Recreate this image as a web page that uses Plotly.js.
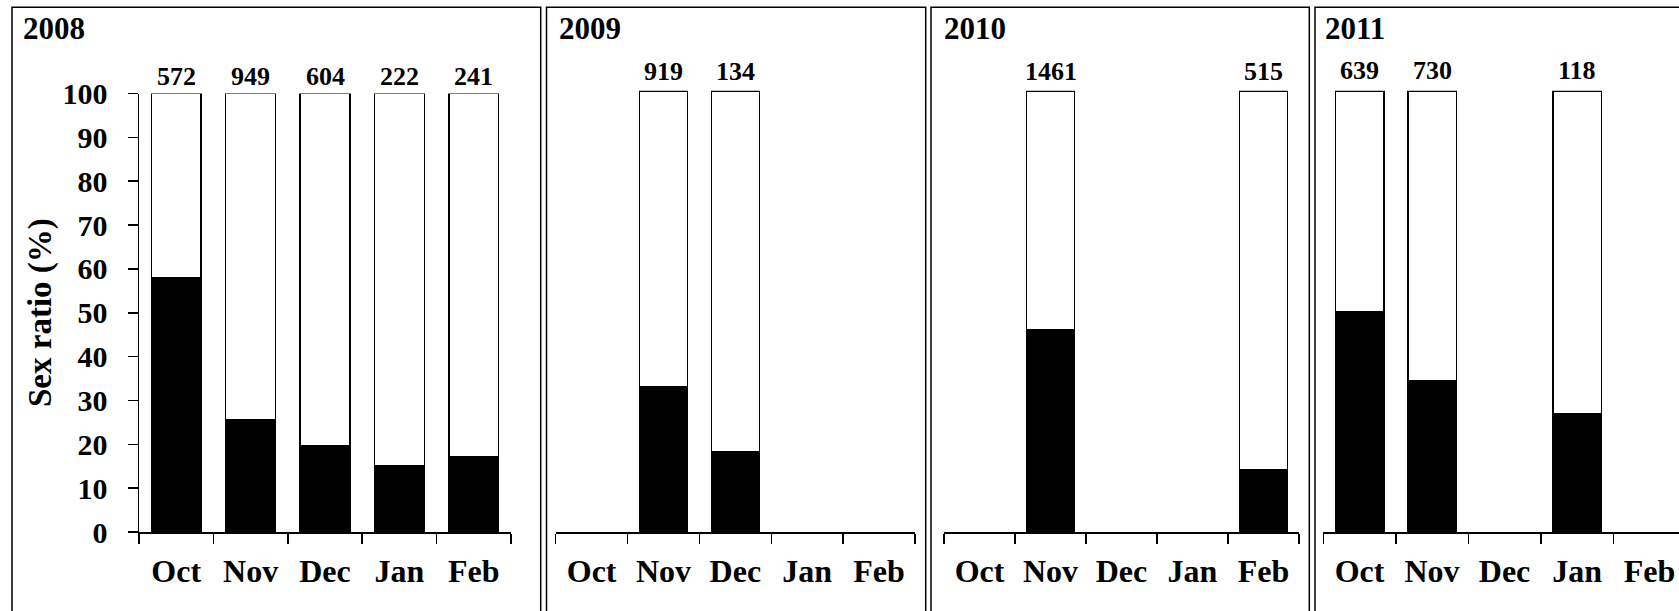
<!DOCTYPE html>
<html>
<head>
<meta charset="utf-8">
<script src="https://cdn.plot.ly/plotly-3.0.1.min.js"></script>
<style>
html,body{margin:0;padding:0;background:#fff;overflow:hidden;}
#chart{width:1679px;height:611px;}
</style>
</head>
<body>
<div id="chart"></div>
<script>
// ---- data ----
const months = ["Oct", "Nov", "Dec", "Jan", "Feb"];
const years = ["2008", "2009", "2010", "2011"];

// female share (%) – black segment
const female2008 = [57.9, 25.7, 19.7, 15.1, 17.2];
const female2009 = [null, 32.9, 18.1, null, null];
const female2010 = [null, 45.9, null, null, 14.1];
const female2011 = [49.9, 34.2, null, 26.8, null];

// male share (%) – white segment
const male2008 = [42.1, 74.3, 80.3, 84.9, 82.8];
const male2009 = [null, 67.1, 81.9, null, null];
const male2010 = [null, 54.1, null, null, 85.9];
const male2011 = [50.1, 65.8, null, 73.2, null];

// sample sizes shown above bars
const n2008 = [572, 949, 604, 222, 241];
const n2009 = [null, 919, 134, null, null];
const n2010 = [null, 1461, null, null, 515];
const n2011 = [639, 730, null, 118, null];

const yTicks = [0, 10, 20, 30, 40, 50, 60, 70, 80, 90, 100];

// ---- layout helpers ----
const W = 1679, H = 611;
const px = x => x / W;
const py = y => 1 - y / H;
const FONT = "Liberation Serif, Times New Roman, serif";

const femaleSets = [female2008, female2009, female2010, female2011];
const maleSets = [male2008, male2009, male2010, male2011];
const nSets = [n2008, n2009, n2010, n2011];

// pixel geometry of the four panels
const panels = [
  {ax0: 139, ax1: 511, top: 93.5, frame0: 12, frame1: 540.7, title: 20.7, lab: 17},
  {ax0: 555.7, ax1: 915, top: 90.8, frame0: 546.5, frame1: 925.7, title: 556.7, lab: 19.5},
  {ax0: 944, ax1: 1299, top: 90.8, frame0: 931, frame1: 1309.3, title: 941.7, lab: 19},
  {ax0: 1323.3, ax1: 1685.8, top: 90.8, frame0: 1315, frame1: 1700, title: 1323.3, lab: 20}
];
const bottomY = 532;

const traces = [];
const annotations = [];
const shapes = [];
const layout = {
  width: W, height: H,
  margin: {l: 0, r: 0, t: 0, b: 0},
  paper_bgcolor: "#fff", plot_bgcolor: "rgba(0,0,0,0)",
  barmode: "stack",
  showlegend: false,
  hovermode: false,
  font: {family: FONT, color: "#000"}
};

panels.forEach((p, i) => {
  const k = i === 0 ? "" : String(i + 1);
  const xa = "x" + k, ya = "y" + k;
  traces.push({
    type: "bar", x: months, y: femaleSets[i], xaxis: xa, yaxis: ya,
    width: 0.67, marker: {color: "#000", line: {color: "#000", width: 1.5}}
  });
  traces.push({
    type: "bar", x: months, y: maleSets[i], xaxis: xa, yaxis: ya,
    width: 0.67, marker: {color: "#fff", line: {color: "#000", width: 1.5}}
  });
  const visibleEnd = Math.min(p.ax1, W);
  const span = (p.ax1 - p.ax0) / months.length;
  layout["xaxis" + k] = {
    domain: [px(p.ax0), px(visibleEnd)],
    anchor: ya,
    type: "category",
    categoryorder: "array", categoryarray: months,
    range: [-0.5, -0.5 + (visibleEnd - p.ax0) / span],
    showline: true, linecolor: "#000", linewidth: 1.5,
    ticks: "outside", tickson: "boundaries", ticklen: 10, tickwidth: 1.5, tickcolor: "#000",
    ticklabelstandoff: 10,
    tickfont: {family: FONT, size: 32, color: "#000", weight: "bold"},
    showgrid: false, zeroline: false, fixedrange: true
  };
  layout["yaxis" + k] = {
    domain: [py(bottomY), py(p.top)],
    anchor: xa,
    range: [0, 100],
    showgrid: false, zeroline: false, fixedrange: true,
    showline: i === 0, linecolor: "#000", linewidth: 1.5,
    ticks: i === 0 ? "outside" : "", ticklen: 10, tickwidth: 1.5, tickcolor: "#000",
    ticklabelstandoff: 14,
    tickmode: "array", tickvals: yTicks, ticktext: yTicks.map(String),
    showticklabels: i === 0,
    tickfont: {family: FONT, size: 30, color: "#000", weight: "bold"}
  };
  // sample size labels
  nSets[i].forEach((n, j) => {
    if (n === null) return;
    annotations.push({
      xref: xa, yref: ya, x: months[j], y: 100,
      text: String(n), showarrow: false,
      yanchor: "middle", yshift: p.lab,
      font: {family: FONT, size: 26, color: "#000", weight: "bold"}
    });
  });
  // panel year title
  annotations.push({
    xref: "paper", yref: "paper", x: px(p.title), y: py(29),
    xanchor: "left", yanchor: "middle", text: years[i], showarrow: false,
    font: {family: FONT, size: 31, color: "#000", weight: "bold"}
  });
  // panel frame
  shapes.push({
    type: "rect", xref: "paper", yref: "paper",
    x0: px(p.frame0), x1: px(p.frame1), y0: -0.2, y1: py(7.3),
    line: {color: "#000", width: 1.5}, fillcolor: "rgba(0,0,0,0)", layer: "below"
  });
});

// y-axis title
annotations.push({
  xref: "paper", yref: "paper", x: px(40), y: py(313),
  xanchor: "center", yanchor: "middle", textangle: -90,
  text: "Sex ratio (%)", showarrow: false,
  font: {family: FONT, size: 33, color: "#000", weight: "bold"}
});

layout.annotations = annotations;
layout.shapes = shapes;

Plotly.newPlot("chart", traces, layout, {staticPlot: true, displayModeBar: false});
</script>
</body>
</html>
